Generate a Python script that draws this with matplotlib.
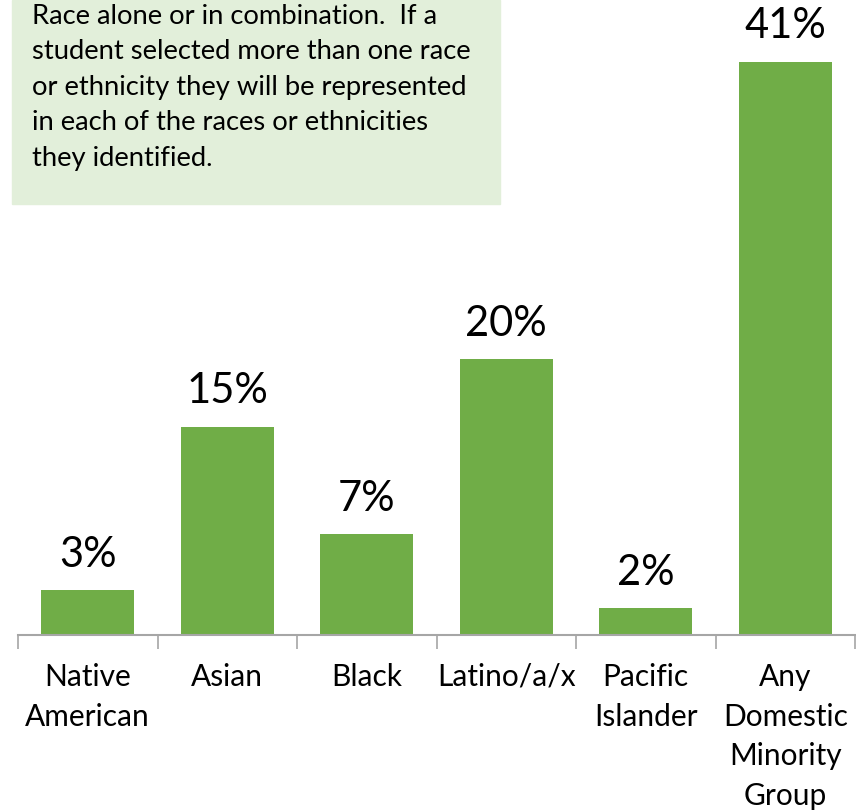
import matplotlib.pyplot as plt
from matplotlib.patches import Rectangle

plt.rcParams['font.family'] = ['Lato', 'DejaVu Sans']

categories = ['Native\nAmerican', 'Asian', 'Black', 'Latino/a/x', 'Pacific\nIslander',
              'Any\nDomestic\nMinority\nGroup']
values = [3.2, 14.9, 7.2, 19.7, 1.9, 41.0]
labels = ['3%', '15%', '7%', '20%', '2%', '41%']
note = ('Race alone or in combination.  If a\n'
        'student selected more than one race\n'
        'or ethnicity they will be represented\n'
        'in each of the races or ethnicities\n'
        'they identified.')

fig = plt.figure(figsize=(8.56, 8.11), dpi=100)
ax = fig.add_axes([18 / 856, 176 / 811, 837 / 856, 635 / 811])

x = list(range(len(values)))
ax.bar(x, values, width=0.667, color='#70AD47')
for i in range(len(values)):
    ax.annotate(labels[i], (x[i], values[i]), xytext=(0, 12), textcoords='offset points',
                ha='center', va='bottom', fontsize=30, color='black')

ax.set_xlim(-0.5, len(values) - 0.5)
ax.set_ylim(0, 45.4)
ax.set_yticks([])
for s in ['top', 'right', 'left']:
    ax.spines[s].set_visible(False)
ax.spines['bottom'].set_color('#A6A6A6')
ax.spines['bottom'].set_linewidth(1.5)

# category ticks sit between the bars
ax.set_xticks([i - 0.5 for i in range(len(values) + 1)])
ax.set_xticklabels([])
ax.tick_params(axis='x', length=10, width=1.2, color='#A6A6A6')
for i, c in enumerate(categories):
    ax.text(x[i], -2.0, c, ha='center', va='top', fontsize=21.5, color='black',
            linespacing=1.51, clip_on=False)

# note box in the top left
fig.patches.append(Rectangle((12 / 856, 1 - 204 / 811), 488 / 856, 204 / 811,
                             transform=fig.transFigure, color='#E2EFDA', zorder=0))
fig.text(32 / 856, 1 - 4 / 811, note, ha='left', va='top', fontsize=19.7,
         color='black', linespacing=1.52)

fig.savefig('out.png', dpi=100)
